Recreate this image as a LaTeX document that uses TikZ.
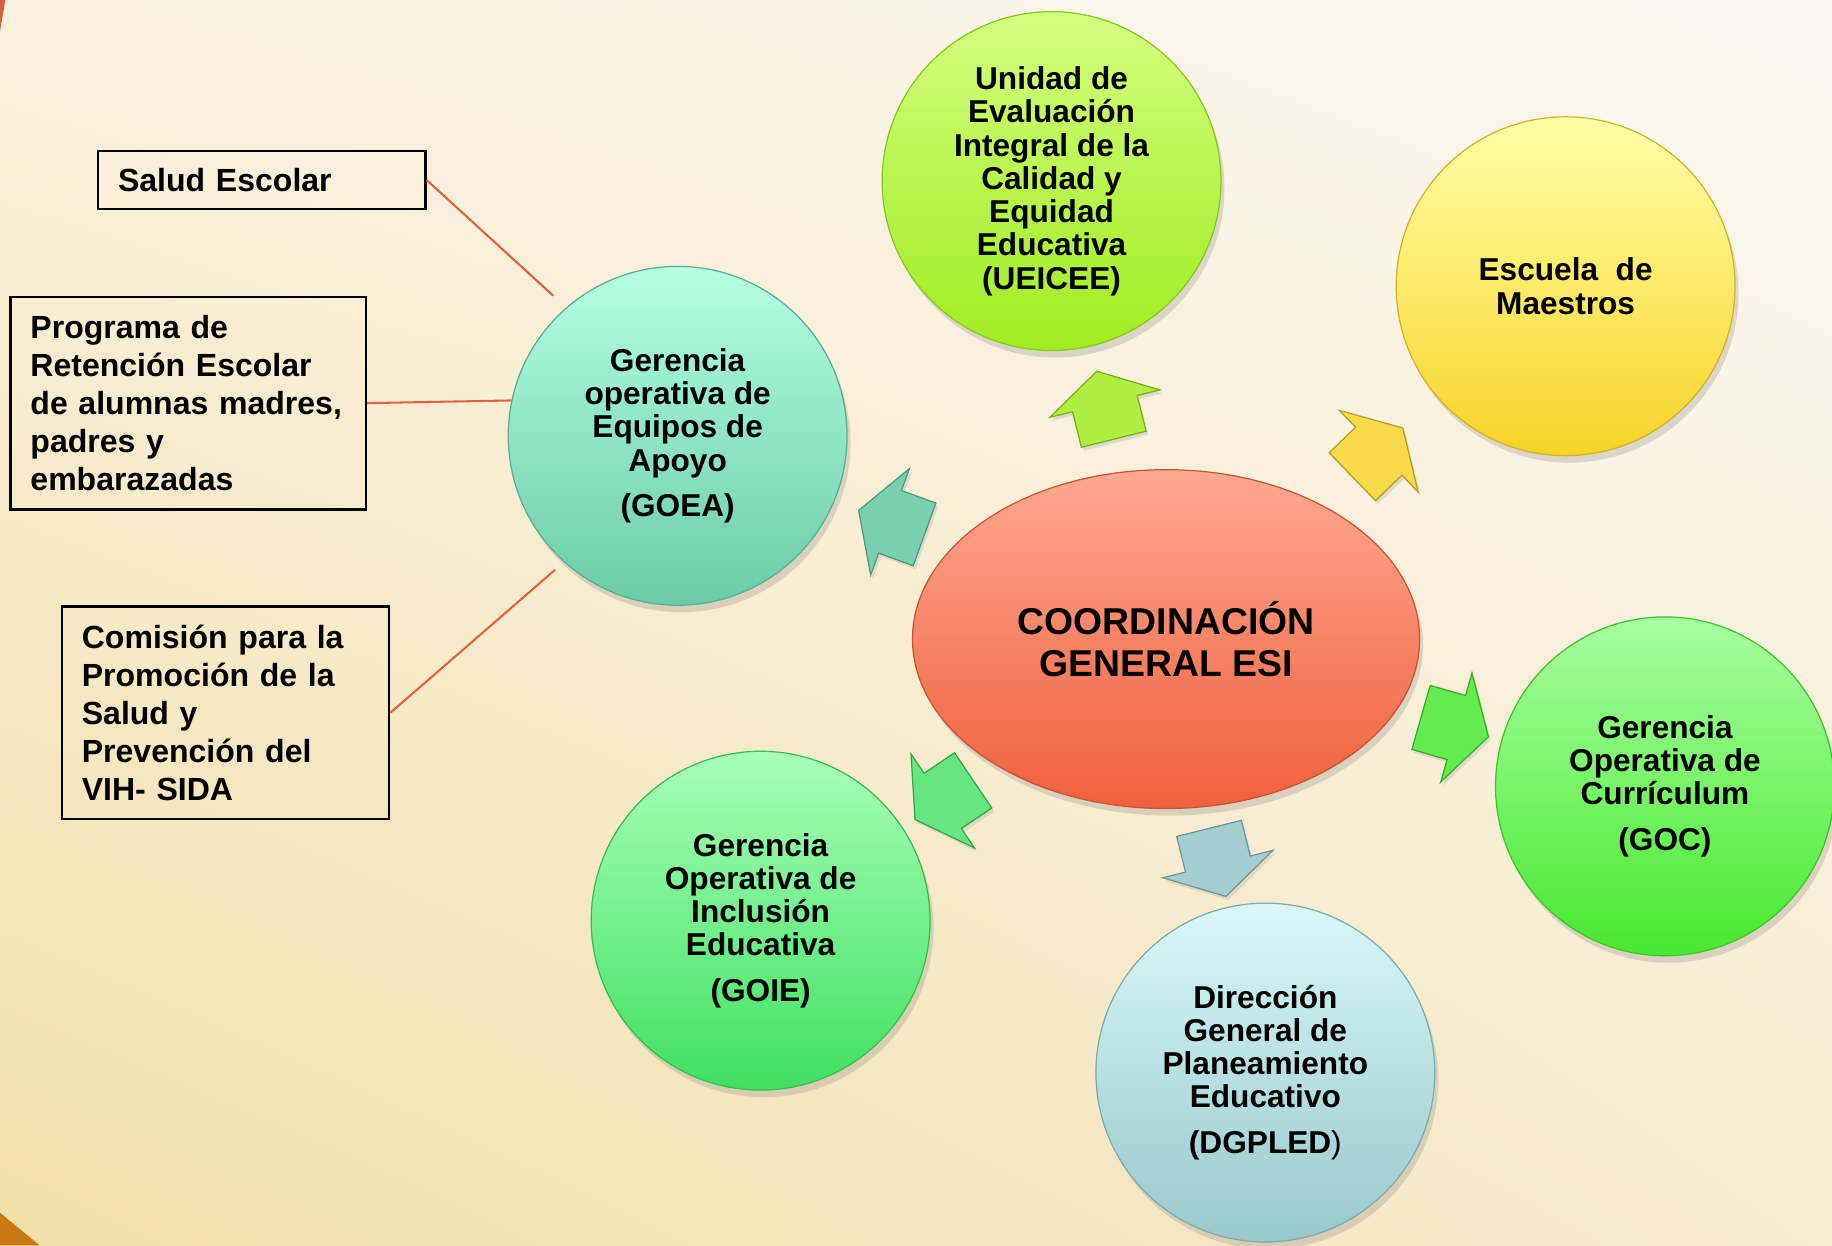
\documentclass[tikz,border=0pt]{standalone}
\usepackage{fontspec}
\setmainfont{Liberation Sans}
\usetikzlibrary{shapes.geometric,shapes.arrows,shadows,shadings}
% background and corners
\definecolor{bgUL}{HTML}{FAF1DE}
\definecolor{bgUR}{HTML}{FCF9F3}
\definecolor{bgLL}{HTML}{F2DFA9}
\definecolor{bgLR}{HTML}{F7EBD0}
\definecolor{cornerred}{HTML}{D9603A}
\definecolor{cornerorange}{HTML}{C87A10}
\definecolor{lineared}{HTML}{E0603F}
% balls
\definecolor{goeaTop}{HTML}{B4FFE4}
\definecolor{goeaBot}{HTML}{6ACBA8}
\definecolor{ueiceeTop}{HTML}{D4FF80}
\definecolor{ueiceeBot}{HTML}{A0EC20}
\definecolor{escuelaTop}{HTML}{FFFFA8}
\definecolor{escuelaBot}{HTML}{F8D428}
\definecolor{coordTop}{HTML}{FFA890}
\definecolor{coordBot}{HTML}{F0603C}
\definecolor{gocTop}{HTML}{A8FFA0}
\definecolor{gocBot}{HTML}{48E830}
\definecolor{dgpledTop}{HTML}{D8F8F8}
\definecolor{dgpledBot}{HTML}{98C8CC}
\definecolor{goieTop}{HTML}{A8FFB8}
\definecolor{goieBot}{HTML}{40E060}
\begin{document}
\begin{tikzpicture}[
  bola/.style={circle, minimum size=2.9cm, inner sep=0pt, align=center,
    font=\fontsize{7.7}{8.1}\selectfont\bfseries,
    drop shadow={shadow xshift=0.03cm, shadow yshift=-0.06cm, opacity=0.25}},
  caja/.style={draw=black, line width=0.6pt, inner xsep=0.17cm, inner ysep=0pt,
    align=left, anchor=north west, font=\fontsize{7.8}{9.25}\selectfont\bfseries},
  flecha/.style={single arrow, inner xsep=0pt, inner ysep=0.28cm,
    minimum height=0.6cm, single arrow head extend=0.2cm,
    single arrow tip angle=119, line width=0.3pt,
    drop shadow={shadow xshift=0.02cm, shadow yshift=-0.03cm, opacity=0.2}},
  enlace/.style={draw=lineared, line width=0.5pt}
]
% background
\useasboundingbox (0,0) rectangle (15.68,-10.66);
\shade[upper left=bgUL, upper right=bgUR, lower left=bgLL, lower right=bgLR]
  (0,0) rectangle (15.68,-10.66);
\fill[cornerred] (0,0) -- (0.045,0) -- (0,-0.27) -- cycle;
\fill[cornerorange] (0,-10.38) -- (0.34,-10.66) -- (0,-10.66) -- cycle;
% boxes on the left
\node[caja, minimum width=2.8cm, minimum height=0.5cm, text width=2.46cm]
  (salud) at (0.83,-1.28) {Salud Escolar};
\node[caja, minimum width=3.04cm, minimum height=1.82cm, text width=2.70cm]
  (programa) at (0.08,-2.53) {Programa de\\Retención Escolar\\de alumnas madres,\\padres y\\embarazadas};
\node[caja, minimum width=2.8cm, minimum height=1.82cm, text width=2.46cm]
  (comision) at (0.52,-5.18) {Comisión para la\\Promoción de la\\Salud y\\Prevención del\\VIH- SIDA};
% the balls
\node[bola, top color=goeaTop, bottom color=goeaBot, draw=goeaBot!85!black, line width=0.3pt]
  (goea) at (5.80,-3.73) {Gerencia\\operativa de\\Equipos de\\Apoyo\\[3pt](GOEA)};
\node[bola, top color=ueiceeTop, bottom color=ueiceeBot, draw=ueiceeBot!85!black, line width=0.3pt]
  (ueicee) at (9.00,-1.55) {Unidad de\\Evaluación\\Integral de la\\Calidad y\\Equidad\\Educativa\\(UEICEE)};
\node[bola, top color=escuelaTop, bottom color=escuelaBot, draw=escuelaBot!85!black, line width=0.3pt]
  (escuela) at (13.40,-2.45) {Escuela\ \ de\\Maestros};
\node[bola, top color=gocTop, bottom color=gocBot, draw=gocBot!85!black, line width=0.3pt]
  (goc) at (14.25,-6.73) {Gerencia\\Operativa de\\Currículum\\[3pt](GOC)};
\node[bola, top color=dgpledTop, bottom color=dgpledBot, draw=dgpledBot!85!black, line width=0.3pt]
  (dgpled) at (10.83,-9.18) {Dirección\\General de\\Planeamiento\\Educativo\\[3pt](DGPLED{\mdseries)}};
\node[bola, top color=goieTop, bottom color=goieBot, draw=goieBot!85!black, line width=0.3pt]
  (goie) at (6.51,-7.88) {Gerencia\\Operativa de\\Inclusión\\Educativa\\[3pt](GOIE)};
% center
\node[bola, ellipse, minimum width=4.34cm, minimum height=2.9cm,
  top color=coordTop, bottom color=coordBot, draw=coordBot!85!black, line width=0.3pt,
  font=\fontsize{9.1}{10}\selectfont\bfseries]
  (coord) at (9.98,-5.47) {COORDINACIÓN\\GENERAL ESI};
% arrows out of the center
\node[flecha, rotate=104, fill=ueiceeBot!85!white, draw=ueiceeBot!75!black] (fueicee) at (9.48,-3.55) {};
\node[flecha, rotate=44, fill=escuelaBot!85!white, draw=escuelaBot!75!black] (fescuela) at (11.73,-3.93) {};
\node[flecha, rotate=160, fill=goeaBot!90!white, draw=goeaBot!75!black] (fgoea) at (7.71,-4.50) {};
\node[flecha, rotate=-16, fill=gocBot!85!white, draw=gocBot!75!black] (fgoc) at (12.37,-6.20) {};
\node[flecha, rotate=214, fill=goieBot!80!white, draw=goieBot!75!black] (fgoie) at (8.15,-6.80) {};
\node[flecha, rotate=-76, fill=dgpledBot!90!white, draw=dgpledBot!75!black] (fdgpled) at (10.40,-7.30) {};
% lines to the boxes
\draw[enlace, shorten >=0.15cm] (salud.east) -- (goea.131);
\draw[enlace] (programa.east) -- (goea.168);
\draw[enlace, shorten >=0.1cm] (comision.east) -- (goea.228);
\end{tikzpicture}
\end{document}
